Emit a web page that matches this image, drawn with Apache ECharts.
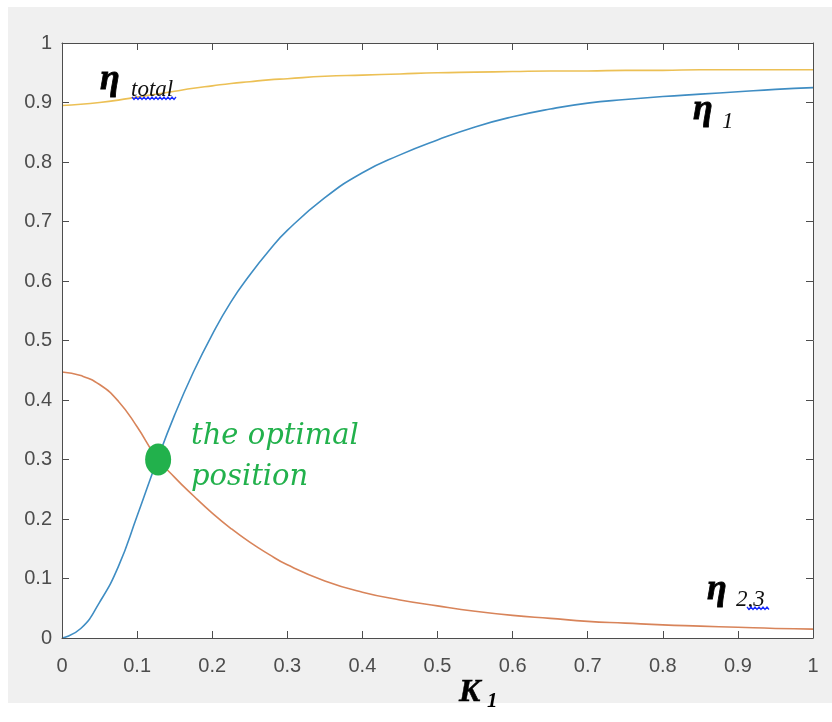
<!DOCTYPE html>
<html><head><meta charset="utf-8">
<script src="https://cdn.jsdelivr.net/npm/echarts@6/dist/echarts.min.js"></script>
<style>html,body{margin:0;padding:0;background:#fff}#c{width:832px;height:722px}</style>
</head><body><div id="c"></div>
<script>
// ---- data ----
const k        = [0, 0.025, 0.05, 0.075, 0.1, 0.125, 0.15, 0.175, 0.2, 0.225, 0.25, 0.275, 0.3,
                  0.35, 0.4, 0.45, 0.5, 0.55, 0.6, 0.65, 0.7, 0.75, 0.8, 0.85, 0.9, 0.95, 1];
const eta1     = [0, 0.016, 0.06, 0.12, 0.205, 0.293, 0.375, 0.447, 0.51, 0.565, 0.61, 0.65, 0.685,
                  0.74, 0.782, 0.812, 0.837, 0.859, 0.876, 0.889, 0.899, 0.905, 0.91, 0.914, 0.918, 0.922, 0.925];
const eta23    = [0.447, 0.441, 0.426, 0.398, 0.355, 0.305, 0.27, 0.239, 0.21, 0.184, 0.161, 0.141, 0.123,
                  0.096, 0.077, 0.064, 0.054, 0.045, 0.038, 0.033, 0.028, 0.025, 0.022, 0.02, 0.018, 0.016, 0.015];
const etaTotal = [0.895, 0.897, 0.9, 0.904, 0.909, 0.914, 0.919, 0.924, 0.928, 0.932, 0.935, 0.938, 0.94,
                  0.944, 0.946, 0.948, 0.95, 0.951, 0.952, 0.953, 0.953, 0.954, 0.954, 0.955, 0.955, 0.955, 0.955];
const optimal  = [0.128, 0.30];
const xTickLabels = ['0','0.1','0.2','0.3','0.4','0.5','0.6','0.7','0.8','0.9','1'];
const yTickLabels = ['0','0.1','0.2','0.3','0.4','0.5','0.6','0.7','0.8','0.9','1'];

const axisColor = '#4d4d4d';
const pairs = arr => k.map((x, i) => [x, arr[i]]);

function squiggle(x0, x1, y) {
  const pts = [];
  let up = true;
  for (let x = x0; x <= x1; x += 2) { pts.push([x, up ? y : y + 2.5]); up = !up; }
  return pts;
}

function axisBase(pos, showLabel, labels) {
  return {
    type: 'value', min: 0, max: 1, interval: 0.1, position: pos, z: 10,
    axisLine: { show: true, onZero: false, lineStyle: { color: axisColor, width: 1 } },
    axisTick: { show: true, inside: true, length: 7, lineStyle: { color: axisColor, width: 1 } },
    splitLine: { show: false },
    axisLabel: showLabel ? {
      show: true, color: axisColor, fontSize: 20, fontFamily: 'Liberation Sans, Arial, sans-serif',
      margin: pos === 'left' ? 10 : 18,
      formatter: v => labels[Math.round(v * 10)]
    } : { show: false }
  };
}

const chart = echarts.init(document.getElementById('c'), null, { renderer: 'canvas' });
const serif = '"Liberation Serif", "Times New Roman", serif';
chart.setOption({
  backgroundColor: '#ffffff',
  animation: false,
  grid: { left: 62, top: 43, width: 751, height: 595, show: true, backgroundColor: '#ffffff', borderWidth: 0 },
  xAxis: [axisBase('bottom', true, xTickLabels), axisBase('top', false)],
  yAxis: [axisBase('left', true, yTickLabels), axisBase('right', false)],
  series: [
    { type: 'line', data: pairs(eta1), smooth: 0.5, showSymbol: false,
      lineStyle: { color: '#3f8dc3', width: 1.6 }, z: 3 },
    { type: 'line', data: pairs(eta23), smooth: 0.5, showSymbol: false,
      lineStyle: { color: '#d8845a', width: 1.6 }, z: 3 },
    { type: 'line', data: pairs(etaTotal), smooth: 0.5, showSymbol: false,
      lineStyle: { color: '#ecc055', width: 1.6 }, z: 3 },
    { type: 'scatter', data: [optimal], symbol: 'circle', symbolSize: [26, 32],
      itemStyle: { color: '#22b14c', opacity: 1 }, z: 5 }
  ],
  graphic: [
    { type: 'rect', z: -10, shape: { x: 8, y: 7, width: 824, height: 696 }, style: { fill: '#f0f0f0' } },
    // eta total
    { type: 'text', z: 50, x: 100, y: 80, style: { text: 'η', font: 'bold italic 36px ' + serif, fill: '#000', stroke: '#000', lineWidth: 0.8, align: 'left', verticalAlign: 'middle' } },
    { type: 'text', z: 50, x: 131, y: 90, style: { text: 'total', font: 'italic 23px ' + serif, fill: '#111', align: 'left', verticalAlign: 'middle' } },
    { type: 'polyline', z: 50, shape: { points: squiggle(132, 176, 97) }, style: { stroke: '#1a2cff', lineWidth: 1.3, fill: null } },
    // eta 1
    { type: 'text', z: 50, x: 693, y: 110, style: { text: 'η', font: 'bold italic 36px ' + serif, fill: '#000', stroke: '#000', lineWidth: 0.8, align: 'left', verticalAlign: 'middle' } },
    { type: 'text', z: 50, x: 722, y: 122, style: { text: '1', font: 'italic 23px ' + serif, fill: '#111', align: 'left', verticalAlign: 'middle' } },
    // eta 2,3
    { type: 'text', z: 50, x: 707, y: 590, style: { text: 'η', font: 'bold italic 36px ' + serif, fill: '#000', stroke: '#000', lineWidth: 0.8, align: 'left', verticalAlign: 'middle' } },
    { type: 'text', z: 50, x: 736, y: 600, style: { text: '2,3', font: 'italic 23px ' + serif, fill: '#111', align: 'left', verticalAlign: 'middle' } },
    { type: 'polyline', z: 50, shape: { points: squiggle(747, 770, 607) }, style: { stroke: '#1a2cff', lineWidth: 1.3, fill: null } },
    // optimal position annotation
    { type: 'text', z: 50, x: 191, y: 436, style: { text: 'the optimal', font: 'italic 29px "DejaVu Serif", serif', fill: '#22b14c', align: 'left', verticalAlign: 'middle' } },
    { type: 'text', z: 50, x: 191, y: 477, style: { text: 'position', font: 'italic 29px "DejaVu Serif", serif', fill: '#22b14c', align: 'left', verticalAlign: 'middle' } },
    // x axis name K1
    { type: 'text', z: 50, x: 459, y: 693, style: { text: 'K', font: 'bold italic 32px ' + serif, fill: '#000', stroke: '#000', lineWidth: 0.5, align: 'left', verticalAlign: 'middle' } },
    { type: 'text', z: 50, x: 487, y: 702, style: { text: '1', font: 'bold italic 21px ' + serif, fill: '#000', align: 'left', verticalAlign: 'middle' } }
  ]
});
</script>
</body></html>
